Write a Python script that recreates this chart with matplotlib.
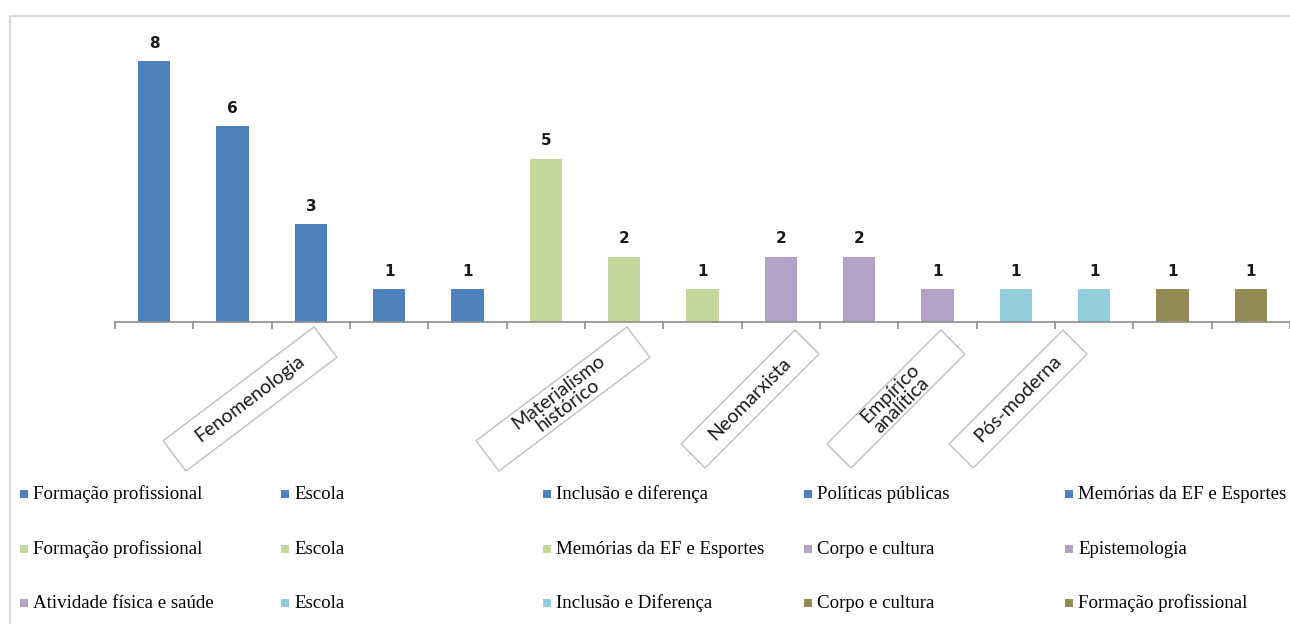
import matplotlib
matplotlib.use("Agg")
import matplotlib.pyplot as plt
import matplotlib.transforms as mtransforms
from matplotlib.patches import Rectangle

# ---- data ----
subtopics = ["Formação profissional", "Escola", "Inclusão e diferença", "Políticas públicas",
             "Memórias da EF e Esportes",
             "Formação profissional", "Escola", "Memórias da EF e Esportes",
             "Corpo e cultura", "Epistemologia", "Atividade física e saúde",
             "Escola", "Inclusão e Diferença",
             "Corpo e cultura", "Formação profissional"]
values = [8, 6, 3, 1, 1, 5, 2, 1, 2, 2, 1, 1, 1, 1, 1]
groups = ["Fenomenologia", "Materialismo\nhistórico", "Neomarxista", "Empírico\nanalítica", "Pós-moderna"]
group_sizes = [5, 3, 3, 2, 2]
group_colors = ["#4F81BD", "#C3D69B", "#B3A2C7", "#93CDDD", "#948A54"]

# ---- style / layout ----
W, H = 1290, 624
# label box placement (pixel centre x, centre y, rotation, box w, box h)
label_layout = [(250, 399, 37, 189, 38), (563, 399, 37, 189, 38), (750, 399, 45, 161, 34),
                (896, 399, 45, 161, 34), (1018, 399, 45, 161, 34)]

bar_colors = []
for c, n in zip(group_colors, group_sizes):
    bar_colors += [c] * n

fig = plt.figure(figsize=(W / 100, H / 100), dpi=100)
fig.patch.set_facecolor("white")

# outer chart frame (cropped at right/bottom)
fig.add_artist(Rectangle((10 / W, -0.05), 1.1, 1 - 16 / H + 0.05, transform=fig.transFigure,
                         fill=False, edgecolor="#D9D9D9", lw=1.5))

ax = fig.add_axes([115 / W, 1 - 322 / H, 1175 / W, (322 - 28.6) / H])
x = list(range(len(values)))
bars = ax.bar(x, values, width=0.41, color=bar_colors, edgecolor="none", zorder=2)
ax.set_xlim(-0.5, len(values) - 0.5)
ax.set_ylim(0, 9)
for s in ["top", "right", "left"]:
    ax.spines[s].set_visible(False)
ax.spines["bottom"].set_color("#8C8C8C")
ax.spines["bottom"].set_linewidth(1.2)
ax.set_yticks([])
ax.set_xticks([i - 0.5 for i in range(len(values) + 1)])
ax.set_xticklabels([])
ax.tick_params(axis="x", direction="out", length=5, width=1.2, color="#8C8C8C")
ax.patch.set_alpha(0)

for xi, v in zip(x, values):
    ax.annotate(str(v), (xi, v), xytext=(0, 13), textcoords="offset points",
                ha="center", va="center", fontsize=11, fontweight="bold",
                family="DejaVu Sans", color="#1a1a1a")

# category labels in rotated boxes
for g, (px, py, rot, bw, bh) in zip(groups, label_layout):
    tr = mtransforms.Affine2D().rotate_deg(rot) + mtransforms.ScaledTranslation(px, H - py, mtransforms.IdentityTransform())
    fig.add_artist(Rectangle((-bw / 2, -bh / 2), bw, bh, transform=tr, fill=False,
                             edgecolor="#BFBFBF", lw=1.0))
    fig.text(px / W, 1 - py / H, g, rotation=rot, rotation_mode="anchor", ha="center",
             va="center", fontsize=14, family="Lato", color="#1a1a1a",
             multialignment="center", linespacing=0.95)

# legend (3 rows x 5 columns)
col_x = [20, 281.3, 542.6, 803.9, 1065.2]
row_y = [494, 549, 603]
for i, (lab, c) in enumerate(zip(subtopics, bar_colors)):
    r, k = divmod(i, 5)
    lx, ly = col_x[k], row_y[r]
    fig.add_artist(Rectangle((lx / W, 1 - (ly + 4) / H), 8 / W, 8 / H,
                             transform=fig.transFigure, facecolor=c, edgecolor="none"))
    fig.text((lx + 13) / W, 1 - (ly + 5) / H, lab, ha="left", va="baseline", fontsize=13.6,
             family="Liberation Serif", color="black")

fig.savefig("out.png", dpi=100)
